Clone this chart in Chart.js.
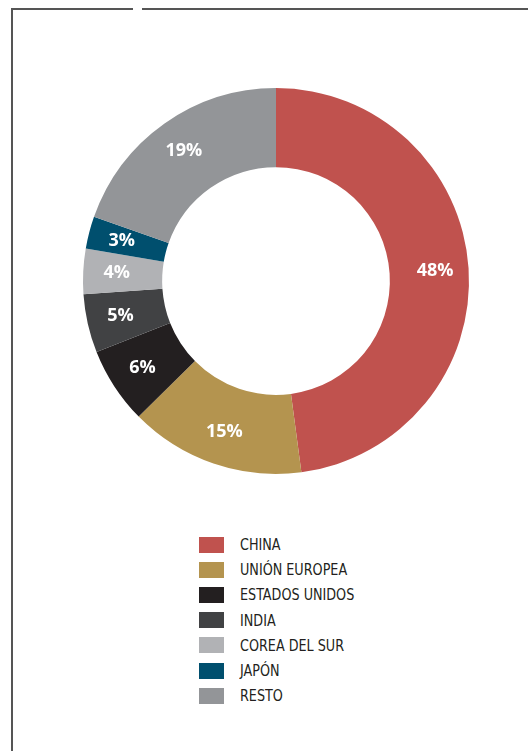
<!DOCTYPE html>
<html>
<head>
<meta charset="utf-8">
<script src="https://cdn.jsdelivr.net/npm/chart.js"></script>
<style>
  body { margin:0; width:528px; height:751px; overflow:hidden; background:#fff; position:relative; }
  .line { position:absolute; background:#555; }
  #chartBox { position:absolute; left:0; top:0; width:528px; height:500px; }
  #legend { position:absolute; left:199px; top:532px; font-family:"DejaVu Sans Condensed","Liberation Sans Narrow",sans-serif; font-size:16.5px; color:#231f20; }
  .item { height:25.2px; display:flex; align-items:center; }
  .box { width:25px; height:16px; margin-right:16px; }
  .txt { display:inline-block; transform:scaleX(0.86); transform-origin:left center; white-space:nowrap; }
</style>
</head>
<body>
<div class="line" style="left:11px; top:8px; width:2px; height:743px;"></div>
<div class="line" style="left:11px; top:8px; width:122px; height:2px;"></div>
<div class="line" style="left:142px; top:8px; width:386px; height:2px;"></div>
<div id="chartBox"><canvas id="myChart"></canvas></div>
<div id="legend"></div>
<script>
  var categories = ["CHINA", "UNIÓN EUROPEA", "ESTADOS UNIDOS", "INDIA", "COREA DEL SUR", "JAPÓN", "RESTO"];
  var shares = [47.9, 14.7, 6.4, 4.9, 3.8, 2.7, 19.6];
  var shareLabels = ["48%", "15%", "6%", "5%", "4%", "3%", "19%"];
  var colors = ["#c0524e", "#b4944f", "#231f20", "#414244", "#b1b2b5", "#004f6e", "#939598"];

  // percent labels drawn in the middle of each ring segment
  var sliceLabels = {
    id: 'sliceLabels',
    afterDatasetsDraw: function(chart) {
      var ctx = chart.ctx;
      var arcs = chart.getDatasetMeta(0).data;
      ctx.save();
      ctx.fillStyle = "#fff";
      ctx.font = "bold 18px 'Open Sans', sans-serif";
      ctx.textAlign = "center";
      ctx.textBaseline = "middle";
      for (var i = 0; i < arcs.length; i++) {
        var a = arcs[i];
        var mid = (a.startAngle + a.endAngle) / 2;
        var r = (a.innerRadius + a.outerRadius) / 2 + 6;
        ctx.fillText(shareLabels[i], a.x + Math.cos(mid) * r, a.y + Math.sin(mid) * r);
      }
      ctx.restore();
    }
  };

  new Chart(document.getElementById('myChart'), {
    type: 'doughnut',
    data: {
      labels: categories,
      datasets: [{ data: shares, backgroundColor: colors, borderWidth: 0 }]
    },
    options: {
      responsive: true,
      maintainAspectRatio: false,
      animation: false,
      cutout: '59%',
      layout: { padding: { left: 83, right: 59, top: 88, bottom: 26 } },
      plugins: { legend: { display: false }, tooltip: { enabled: false } }
    },
    plugins: [sliceLabels]
  });

  var legendHtml = "";
  for (var i = 0; i < categories.length; i++) {
    legendHtml += '<div class="item"><div class="box" style="background:' + colors[i] + '"></div><span class="txt">' + categories[i] + '</span></div>';
  }
  document.getElementById('legend').innerHTML = legendHtml;
</script>
</body>
</html>
